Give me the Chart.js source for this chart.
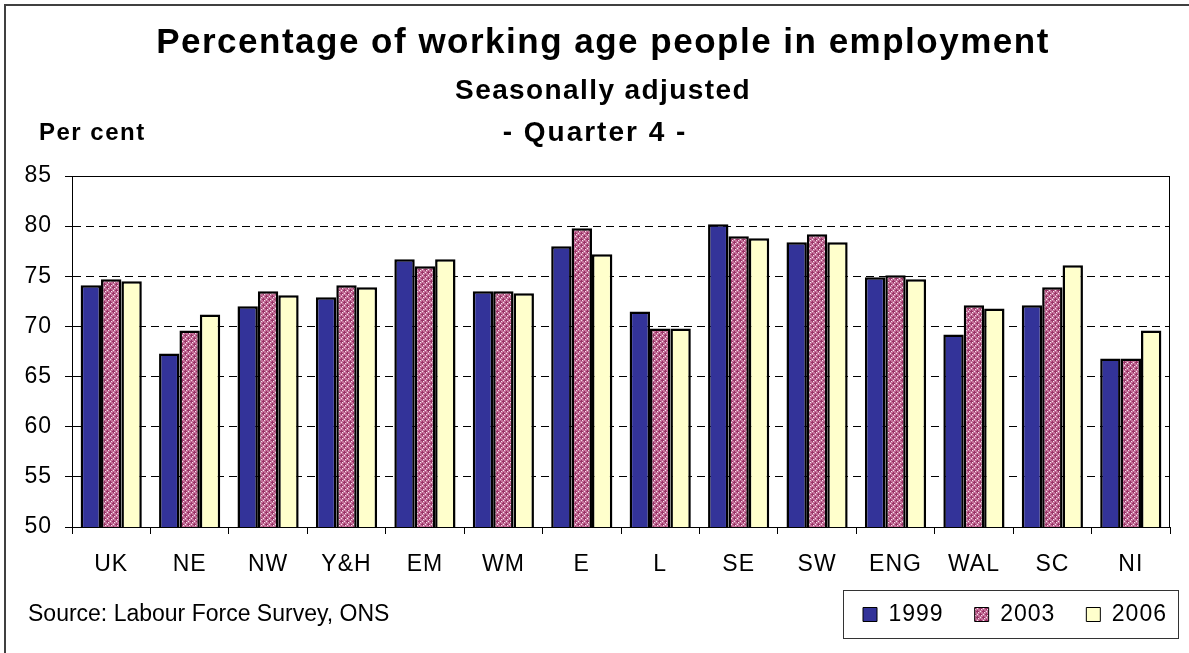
<!DOCTYPE html>
<html>
<head>
<meta charset="utf-8">
<script src="https://cdn.jsdelivr.net/npm/chart.js@4/dist/chart.umd.min.js"></script>
<style>
html,body{margin:0;padding:0;background:#fff;}
#wrap{position:relative;width:1189px;height:653px;overflow:hidden;font-family:"Liberation Sans",Arial,sans-serif;color:#000;}
#frame{position:absolute;left:4px;top:4px;width:1300px;height:800px;border-left:2px solid #404040;border-top:2px solid #404040;}
canvas{position:absolute;left:0;top:0;}
.t{position:absolute;white-space:nowrap;line-height:1;}
#title{left:0;width:1206px;text-align:center;top:23px;font-weight:bold;font-size:35px;letter-spacing:1.5px;}
#sub1{left:0;width:1206px;text-align:center;top:76px;font-weight:bold;font-size:28px;letter-spacing:1.4px;}
#sub2{left:0;width:1190px;text-align:center;top:118px;font-weight:bold;font-size:28px;letter-spacing:2px;}
#unit{left:39px;top:120px;font-weight:bold;font-size:24px;letter-spacing:1.5px;}
#source{left:28px;top:602px;font-size:23px;}
</style>
</head>
<body>
<div id="wrap">
  <canvas id="c" width="1189" height="653"></canvas>
  <div id="frame"></div>
  <div class="t" id="title">Percentage of working age people in employment</div>
  <div class="t" id="sub1">Seasonally adjusted</div>
  <div class="t" id="sub2">- Quarter 4 -</div>
  <div class="t" id="unit">Per cent</div>
  <div class="t" id="source">Source: Labour Force Survey, ONS</div>
</div>
<script>
const categories = ['UK','NE','NW','Y&H','EM','WM','E','L','SE','SW','ENG','WAL','SC','NI'];
const seriesNames = ['1999','2003','2006'];
const values1999 = [74.1,67.3,72.0,72.9,76.7,73.5,78.0,71.5,80.2,78.4,74.9,69.2,72.1,66.8];
const values2003 = [74.7,69.6,73.5,74.1,76.0,73.5,79.8,69.8,79.0,79.2,75.1,72.1,73.9,66.8];
const values2006 = [74.5,71.2,73.1,73.9,76.7,73.3,77.2,69.8,78.8,78.4,74.7,71.8,76.1,69.6];
const yMin = 50, yMax = 85, yStep = 5;

const FONT = '"Liberation Sans", Arial, sans-serif';

function makePattern(){
  const c = document.createElement('canvas');
  c.width = 6; c.height = 6;
  const g = c.getContext('2d');
  g.fillStyle = '#c47099'; g.fillRect(0,0,6,6);
  g.fillStyle = '#993366';
  [[2,1],[1,2],[2,2],[3,2],[2,3],[5,4],[4,5],[5,5],[0,5],[5,0]].forEach(p=>g.fillRect(p[0],p[1],1,1));
  g.fillStyle = '#f6e2ee';
  [[5,2],[2,5],[0,0],[3,3]].forEach(p=>g.fillRect(p[0],p[1],1,1));
  return g.createPattern(c,'repeat');
}
const pattern2003 = makePattern();

const legendBox = {left:843, top:590, width:335, height:48, insetX:20, insetY:13};

const spacingPlugin = {
  id:'spacing',
  beforeUpdate(chart){ chart.ctx.letterSpacing = '1px'; },
  beforeDraw(chart){ chart.ctx.letterSpacing = '1px'; }
};

const framePlugin = {
  id:'frame',
  beforeDatasetsDraw(chart){
    const a = chart.chartArea, g = chart.ctx;
    g.save();
    g.strokeStyle = '#000'; g.lineWidth = 1; g.setLineDash([]);
    g.beginPath();
    g.moveTo(a.left, a.top + 0.5); g.lineTo(a.right - 0.5, a.top + 0.5); g.lineTo(a.right - 0.5, a.bottom);
    g.stroke();
    g.restore();
  }
};

const legendPlace = {
  id:'legendPlace',
  afterUpdate(chart){
    const lg = chart.legend; if (!lg) return;
    const pad = lg.options.labels.padding;
    lg.left = legendBox.left + legendBox.insetX - pad;
    lg.top = legendBox.top + legendBox.insetY - pad;
    lg.right = lg.left + pad + lg.lineWidths[0] + 60;
    lg.bottom = lg.top + lg.height;
    lg.width = lg.right - lg.left;
    lg.adjustHitBoxes();
  },
  afterDraw(chart){
    const g = chart.ctx;
    g.save();
    g.strokeStyle = '#333'; g.lineWidth = 1; g.setLineDash([]);
    g.strokeRect(legendBox.left + 0.5, legendBox.top + 0.5, legendBox.width, legendBox.height);
    g.restore();
  }
};

new Chart(document.getElementById('c'), {
  type:'bar',
  data:{
    labels:categories,
    datasets:[
      {label:seriesNames[0], data:values1999, backgroundColor:'#333399', borderColor:'#000', borderWidth:2.5, borderSkipped:false},
      {label:seriesNames[1], data:values2003, backgroundColor:pattern2003, borderColor:'#000', borderWidth:2.5, borderSkipped:false},
      {label:seriesNames[2], data:values2006, backgroundColor:'#ffffcc', borderColor:'#000', borderWidth:2.5, borderSkipped:false}
    ]
  },
  options:{
    responsive:false, animation:false, devicePixelRatio:1,
    layout:{padding:{top:176, right:19, bottom:9, left:0}},
    datasets:{bar:{categoryPercentage:0.78, barPercentage:1}},
    scales:{
      x:{
        grid:{drawOnChartArea:false, offset:true, tickLength:7, color:'#000', tickBorderDash:[]},
        border:{color:'#000', width:1},
        ticks:{color:'#000', font:{family:FONT, size:23}, padding:17, maxRotation:0, autoSkip:false},
        afterFit(s){ s.height = 53; }
      },
      y:{
        min:yMin, max:yMax,
        ticks:{stepSize:yStep, color:'#000', font:{family:FONT, size:23}, padding:13},
        grid:{color:'#000', tickLength:7, tickBorderDash:[], lineWidth:1},
        border:{color:'#000', width:1, dash:[8,5]},
        afterFit(s){ s.width = 72; }
      }
    },
    plugins:{
      title:{display:false},
      tooltip:{enabled:false},
      legend:{
        position:'bottom', align:'start',
        labels:{
          color:'#000', font:{family:FONT, size:23, lineHeight:1}, boxWidth:14, boxHeight:14, padding:31,
          generateLabels(chart){
            const items = Chart.defaults.plugins.legend.labels.generateLabels(chart);
            items.forEach(it=>{ it.lineWidth = 1; it.strokeStyle = '#000'; });
            return items;
          }
        }
      }
    }
  },
  plugins:[spacingPlugin, framePlugin, legendPlace]
});
</script>
</body>
</html>
